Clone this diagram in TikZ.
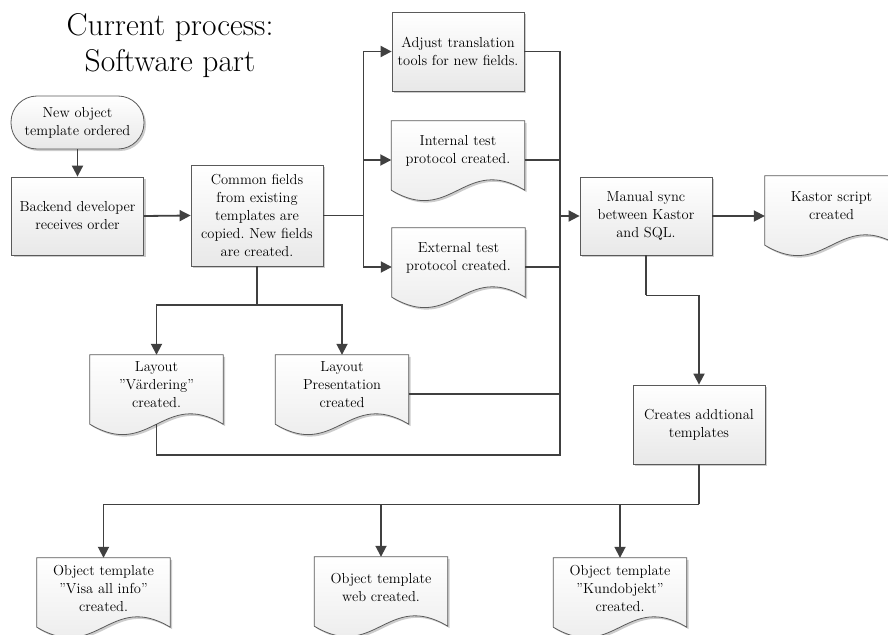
\documentclass[tikz,border=0pt]{standalone}
\usepackage{fontspec}
\usetikzlibrary{arrows.meta,shadows,backgrounds}
\definecolor{linec}{RGB}{64,64,64}
\definecolor{borderc}{RGB}{90,90,90}
\frenchspacing
\tikzset{
  basefont/.style={font=\fontsize{14.5}{18}\selectfont\frenchspacing, align=center, inner sep=0pt},
  shade/.style={top color=white, bottom color=black!9, draw=borderc, line width=0.8pt,
    drop shadow={shadow xshift=2pt, shadow yshift=-2pt, opacity=0.2, fill=black}},
  procbox/.style={basefont, shade, minimum width=132pt, minimum height=78pt},
  termbox/.style={basefont, shade, minimum width=133pt, minimum height=53pt, rounded corners=26pt},
  docbox/.style={basefont, minimum width=133pt, minimum height=60pt},
  docshade/.style={shade},
  conn/.style={draw=linec, line width=1.8pt},
  arr/.style={conn, -{Triangle[length=11pt,width=11pt]}},
}
\newcommand\docpath[1]{%
  \path[docshade] (#1.north west) -- (#1.north east) -- ([yshift=-9pt]#1.south east)
    .. controls +(-60,-36) and +(60,36) .. ([yshift=-9pt]#1.south west) -- cycle;}
\begin{document}
\begin{tikzpicture}[x=1pt,y=-1pt]
\useasboundingbox (0,0) rectangle (888,634);
% title
\node[font=\fontsize{31.5}{36}\selectfont, align=center, inner sep=0pt, anchor=north] (title) at (170,13)
  {Current process:\\Software part};
% process boxes
\node[termbox] (start) at (77.5,122.5) {New object\\template ordered};
\node[procbox] (backend) at (77.5,216) {Backend developer\\receives order};
\node[procbox, minimum height=101pt] (common) at (257,215.5)
  {Common fields\\from existing\\templates are\\copied. New fields\\are created.};
\node[procbox, minimum height=79pt] (adjust) at (458,51.5) {Adjust translation\\tools for new fields.};
\node[procbox] (manual) at (646,216) {Manual sync\\between Kastor\\and SQL.};
\node[procbox, minimum height=79pt] (creates) at (699,424.5) {Creates addtional\\templates};
% documents
\node[docbox] (internal) at (458,151) {Internal test\\protocol created.};
\node[docbox] (external) at (458.5,258) {External test\\protocol created.};
\node[docbox] (kastor) at (831.5,206) {Kastor script\\created};
\node[docbox] (vard) at (156.5,385) {Layout\\”Värdering”\\created.};
\node[docbox] (pres) at (342,385) {Layout\\Presentation\\created};
\node[docbox] (visa) at (103.5,588) {Object template\\”Visa all info”\\created.};
\node[docbox] (web) at (381,587) {Object template\\web created.};
\node[docbox] (kund) at (620,588) {Object template\\”Kundobjekt”\\created.};
\begin{scope}[on background layer]
  \docpath{internal}\docpath{external}\docpath{kastor}\docpath{vard}
  \docpath{pres}\docpath{visa}\docpath{web}\docpath{kund}
\end{scope}
% connectors
\draw[arr] (start.south) -- (backend.north);
\draw[arr] (backend.east) -- (common.west);
\draw[conn] (common.east) -- ++(40,0) coordinate (cj);
\draw[arr] (cj) |- (adjust.west);
\draw[arr] (cj) |- ([yshift=-9pt]internal.west);
\draw[arr] (cj) |- ([yshift=-9pt]external.west);
\coordinate (mj) at ([xshift=-20pt]manual.west);
\draw[arr] (mj) -- (manual.west);
\draw[conn] (adjust.east) -| (mj);
\draw[conn] ([yshift=-9pt]internal.east) -| (mj);
\draw[conn] ([yshift=-9pt]external.east) -| (mj);
\draw[conn] ([yshift=-9pt]pres.east) -| (mj);
\draw[conn] ([yshift=-9pt]vard.south) -- ++(0,31) -| (mj);
\draw[conn] (common.south) -- ++(0,38.5) coordinate (cd);
\draw[arr] (cd) -| (vard.north);
\draw[arr] (cd) -| (pres.north);
\draw[arr] (manual.east) -- (manual.east -| kastor.west);
\draw[conn] (manual.south) -- ++(0,40) coordinate (md);
\draw[arr] (md) -| (creates.north);
\draw[conn] (creates.south) -- ++(0,40) coordinate (bj);
\draw[arr] (bj) -| (visa.north);
\draw[arr] (bj) -| (web.north);
\draw[arr] (bj) -| (kund.north);
\end{tikzpicture}
\end{document}
